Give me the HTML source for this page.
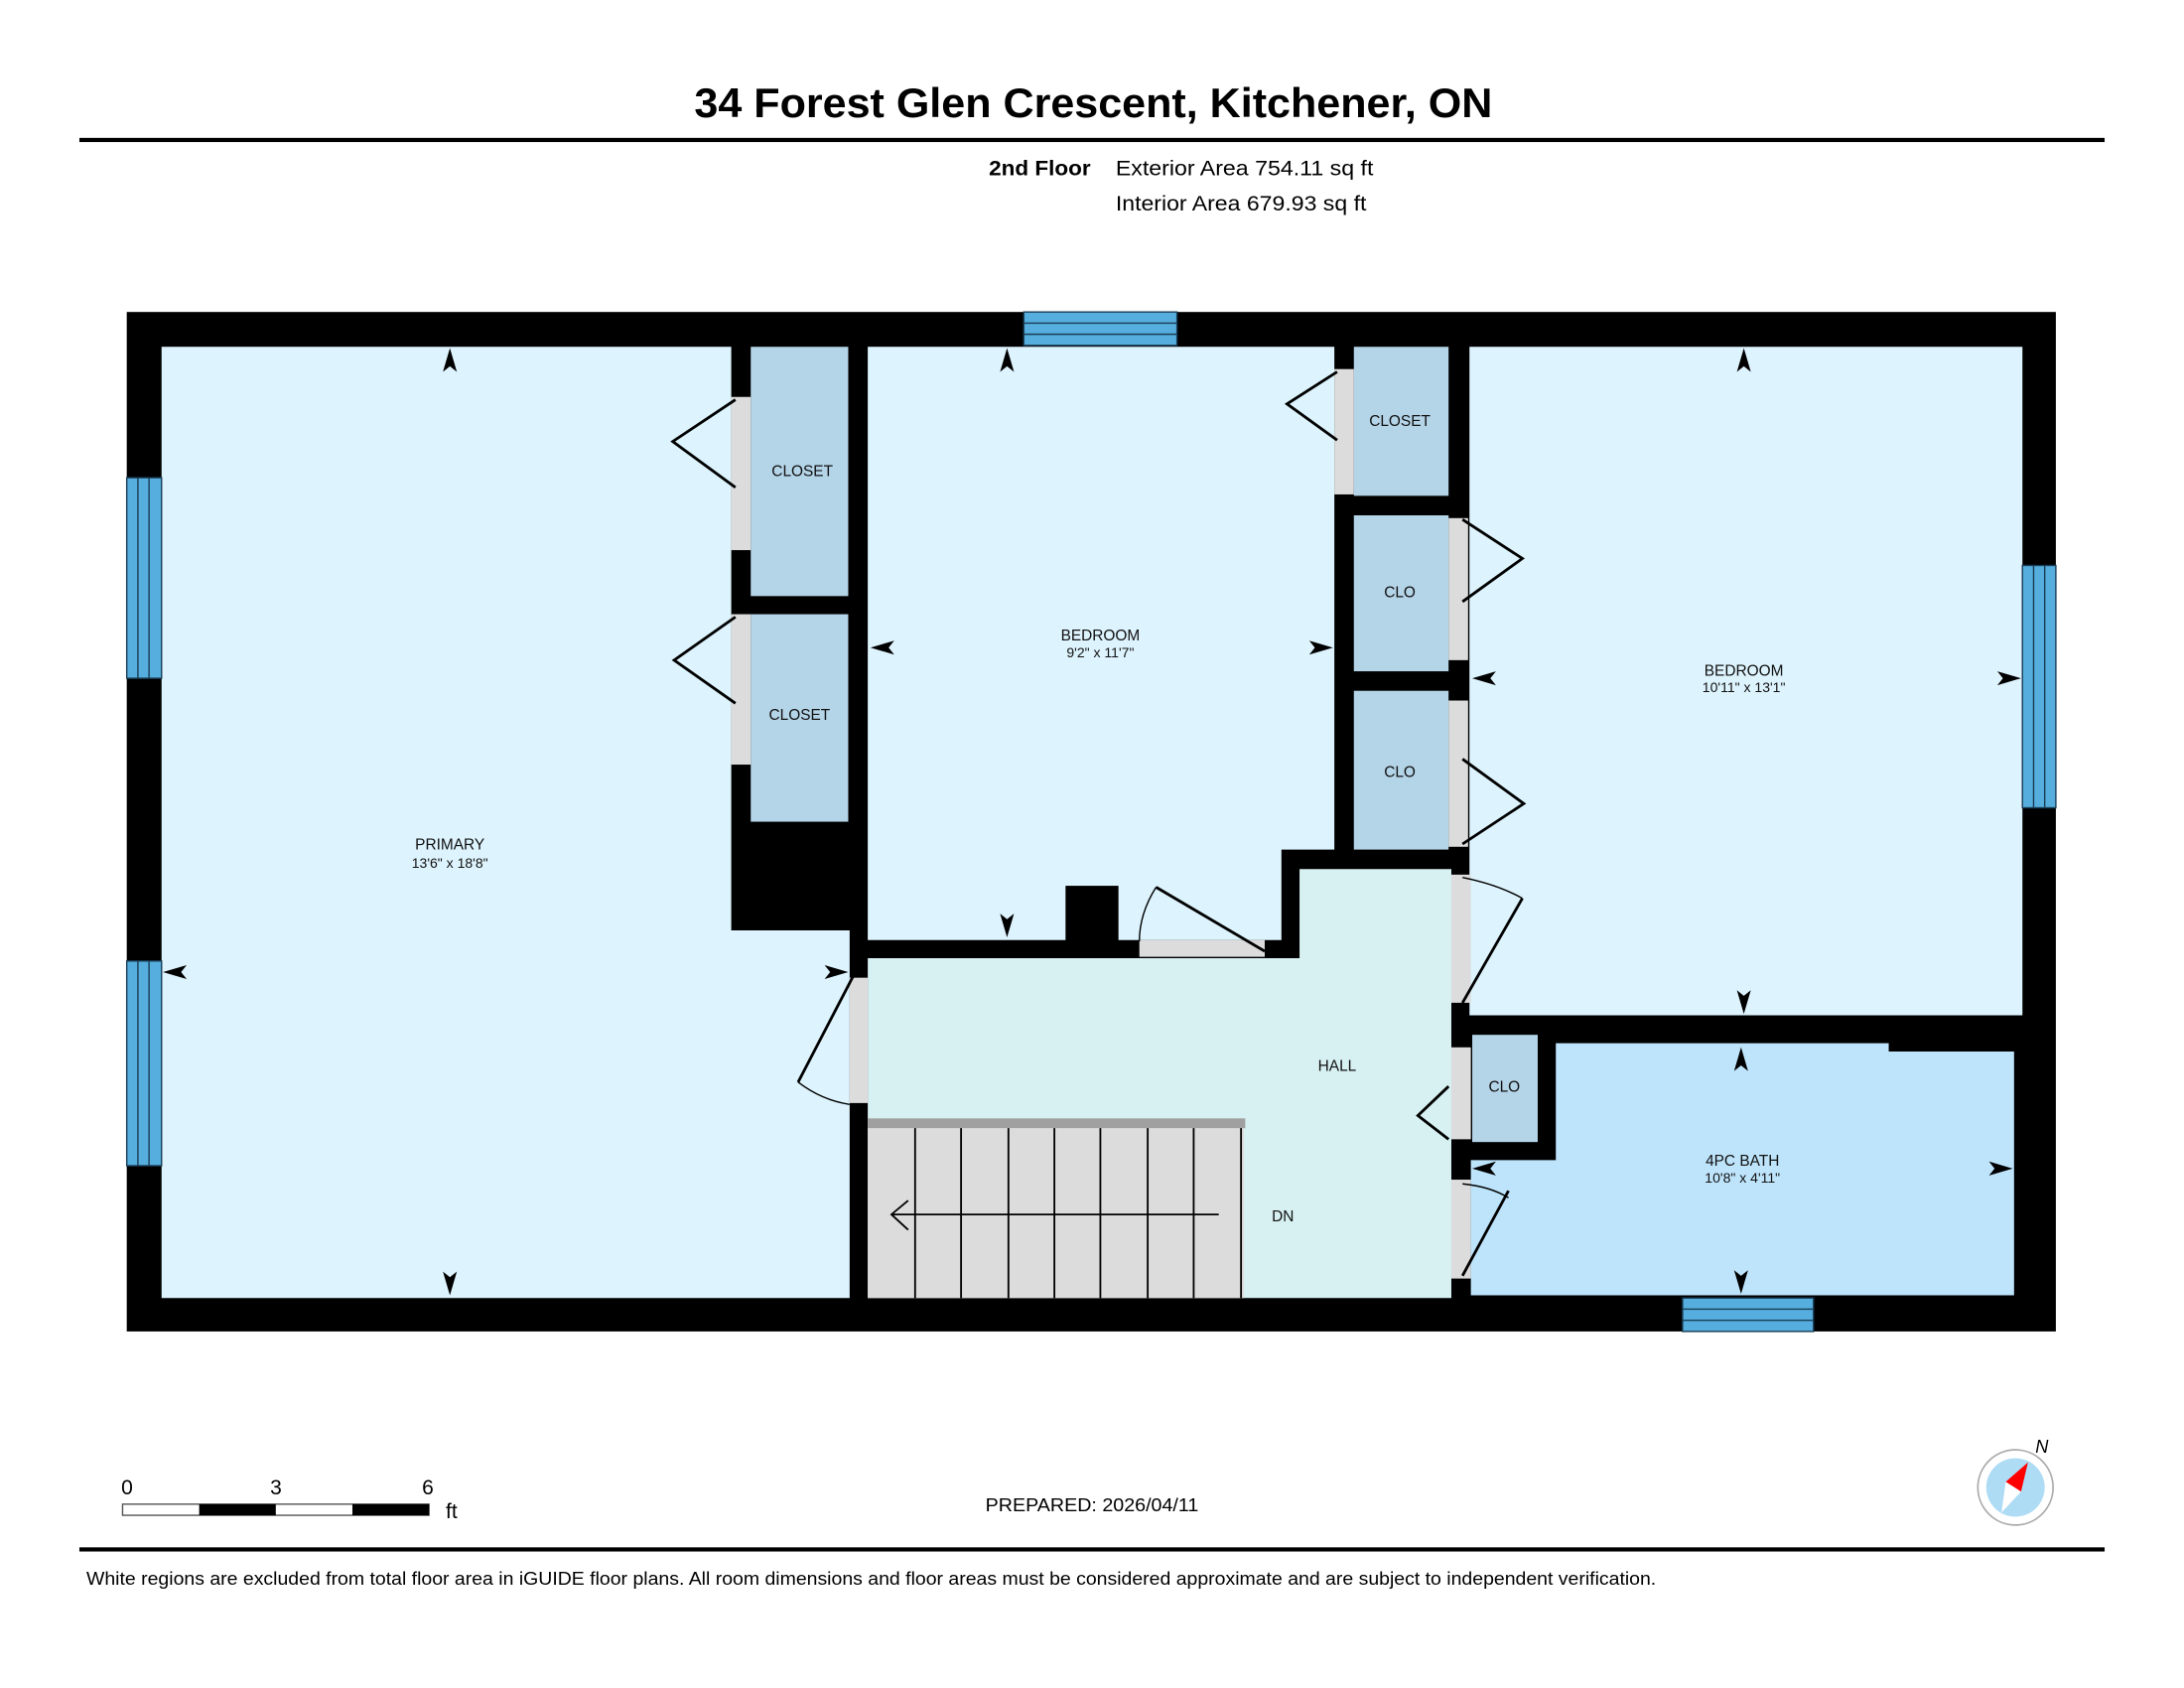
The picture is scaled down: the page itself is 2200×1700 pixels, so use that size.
<!DOCTYPE html>
<html><head><meta charset="utf-8"><style>
html,body{margin:0;padding:0;background:#fff;}
svg{display:block;}
text{font-family:"Liberation Sans",Arial,sans-serif;}
</style></head><body>
<svg width="2200" height="1700" viewBox="0 0 1568 1212" preserveAspectRatio="none" xmlns="http://www.w3.org/2000/svg">
<rect width="1568" height="1212" fill="#fff"/>
<!-- header -->
<text x="785" y="84" font-size="30" font-weight="bold" text-anchor="middle" textLength="573" lengthAdjust="spacingAndGlyphs">34 Forest Glen Crescent, Kitchener, ON</text>
<rect x="57" y="99" width="1454" height="3" fill="#000"/>
<text x="710" y="126" font-size="15" font-weight="bold" textLength="73" lengthAdjust="spacingAndGlyphs">2nd Floor</text>
<text x="801" y="126" font-size="15" textLength="185" lengthAdjust="spacingAndGlyphs">Exterior Area 754.11 sq ft</text>
<text x="801" y="151" font-size="15" textLength="180" lengthAdjust="spacingAndGlyphs">Interior Area 679.93 sq ft</text>

<!-- walls -->
<rect x="91" y="224" width="1385" height="732" fill="#000"/>
<!-- primary -->
<polygon points="116,249 525,249 525,668 610,668 610,932 116,932" fill="#ddf3fd"/>
<rect x="539" y="249" width="70" height="179" fill="#b4d4e8"/>
<rect x="539" y="441" width="70" height="149" fill="#b4d4e8"/>
<rect x="525" y="285" width="14" height="110" fill="#dcdcdc"/>
<rect x="525" y="441" width="14" height="108" fill="#dcdcdc"/>
<!-- bedroom 1 -->
<polygon points="623,249 958,249 958,610 920,610 920,675 623,675" fill="#ddf3fd"/>
<rect x="765" y="636" width="38" height="40" fill="#000"/>
<rect x="818" y="675" width="90" height="12" fill="#dcdcdc"/>
<rect x="972" y="249" width="68" height="107" fill="#b4d4e8"/>
<rect x="958" y="265" width="14" height="90" fill="#dcdcdc"/>
<rect x="972" y="370" width="68" height="112" fill="#b4d4e8"/>
<rect x="972" y="496" width="68" height="114" fill="#b4d4e8"/>
<rect x="1040" y="372" width="14" height="102" fill="#dcdcdc"/>
<rect x="1040" y="503" width="14" height="105" fill="#dcdcdc"/>
<!-- bedroom 2 -->
<rect x="1055" y="249" width="397" height="480" fill="#ddf3fd"/>
<!-- hall -->
<polygon points="623,688 933,688 933,624 1042,624 1042,932 623,932" fill="#d7f0f2"/>
<rect x="1042" y="628" width="14" height="92" fill="#dcdcdc"/>
<rect x="1042" y="752" width="14" height="66" fill="#dcdcdc"/>
<rect x="1042" y="847" width="14" height="71" fill="#dcdcdc"/>
<rect x="610" y="702" width="13" height="90" fill="#dcdcdc"/>
<!-- bath -->
<polygon points="1117,749 1356,749 1356,755 1446,755 1446,930 1056,930 1056,833 1117,833" fill="#bee4fb"/>
<rect x="1057" y="743" width="47" height="77" fill="#b4d4e8"/>
<!-- stairs -->
<rect x="623" y="810" width="270" height="122" fill="#dcdcdc"/>
<rect x="623" y="803" width="271" height="7" fill="#a0a0a0"/>
<g stroke="#000" stroke-width="1.3">
<line x1="657" y1="810" x2="657" y2="932"/><line x1="690" y1="810" x2="690" y2="932"/>
<line x1="724" y1="810" x2="724" y2="932"/><line x1="757" y1="810" x2="757" y2="932"/>
<line x1="790" y1="810" x2="790" y2="932"/><line x1="824" y1="810" x2="824" y2="932"/>
<line x1="857" y1="810" x2="857" y2="932"/><line x1="891" y1="810" x2="891" y2="932"/>
<line x1="640" y1="872" x2="875" y2="872"/>
<polyline points="652,862 640,872 652,883" fill="none"/>
</g>
<!-- windows -->
<g fill="#55aede" stroke="#1a3d55" stroke-width="1">
<rect x="735" y="224" width="110" height="24"/>
<line x1="735" y1="232" x2="845" y2="232"/><line x1="735" y1="240" x2="845" y2="240"/>
<rect x="91" y="343" width="25" height="144"/>
<line x1="99" y1="343" x2="99" y2="487"/><line x1="107" y1="343" x2="107" y2="487"/>
<rect x="91" y="690" width="25" height="147"/>
<line x1="99" y1="690" x2="99" y2="837"/><line x1="107" y1="690" x2="107" y2="837"/>
<rect x="1452" y="406" width="24" height="174"/>
<line x1="1460" y1="406" x2="1460" y2="580"/><line x1="1468" y1="406" x2="1468" y2="580"/>
<rect x="1208" y="932" width="94" height="24"/>
<line x1="1208" y1="940" x2="1302" y2="940"/><line x1="1208" y1="948" x2="1302" y2="948"/>
</g>
<!-- door swings -->
<g stroke="#000" stroke-width="2" fill="none">
<polyline points="528,287 483,317 528,350"/>
<polyline points="528,443 484,474 528,505"/>
<polyline points="960,267 924,290 960,316"/>
<polyline points="1050,373 1093,401 1050,432"/>
<polyline points="1050,545 1094,577 1050,606"/>
<polyline points="1040,780 1018,801 1040,818"/>
<line x1="830" y1="637" x2="908" y2="683"/>
<line x1="1093" y1="645" x2="1050" y2="720"/>
<line x1="1083" y1="855" x2="1050" y2="916"/>
<line x1="613" y1="700" x2="573" y2="777"/>
</g>
<g stroke="#000" stroke-width="1" fill="none">
<path d="M830,637 Q818,656 818,676"/>
<path d="M1050,630 Q1075,635 1093,645"/>
<path d="M1050,850 Q1070,852 1083,860"/>
<path d="M573,777 Q590,790 610,793"/>
</g>
<!-- dimension arrows -->
<g fill="#000">
<polygon points="323,250 318,267 323,263 328,267"/><polygon points="323,930 318,913 323,917 328,913"/>
<polygon points="117,698 134,693 130,698 134,703"/><polygon points="609,698 592,693 596,698 592,703"/>
<polygon points="723,250 718,267 723,263 728,267"/><polygon points="723,673 718,656 723,660 728,656"/>
<polygon points="625,465 642,460 638,465 642,470"/><polygon points="957,465 940,460 944,465 940,470"/>
<polygon points="1252,250 1247,267 1252,263 1257,267"/><polygon points="1252,728 1247,711 1252,715 1257,711"/>
<polygon points="1057,487 1074,482 1070,487 1074,492"/><polygon points="1451,487 1434,482 1438,487 1434,492"/>
<polygon points="1250,752 1245,769 1250,765 1255,769"/><polygon points="1250,929 1245,912 1250,916 1255,912"/>
<polygon points="1057,839 1074,834 1070,839 1074,844"/><polygon points="1445,839 1428,834 1432,839 1428,844"/>
</g>
<!-- room labels -->
<g font-size="11" text-anchor="middle" fill="#111">
<text x="323" y="610">PRIMARY</text><text x="323" y="623" font-size="10">13'6" x 18'8"</text>
<text x="576" y="342">CLOSET</text><text x="574" y="517">CLOSET</text>
<text x="790" y="460">BEDROOM</text><text x="790" y="472" font-size="10">9'2" x 11'7"</text>
<text x="1005" y="306">CLOSET</text><text x="1005" y="429">CLO</text><text x="1005" y="558">CLO</text>
<text x="1252" y="485">BEDROOM</text><text x="1252" y="497" font-size="10">10'11" x 13'1"</text>
<text x="960" y="769">HALL</text><text x="1080" y="784">CLO</text><text x="921" y="877">DN</text>
<text x="1251" y="837">4PC BATH</text><text x="1251" y="849" font-size="10">10'8" x 4'11"</text>
</g>
<!-- scale bar -->
<g font-size="15">
<text x="87" y="1073">0</text><text x="194" y="1073">3</text><text x="303" y="1073">6</text>
<text x="320" y="1090">ft</text>
</g>
<rect x="88" y="1080" width="220" height="8" fill="#fff" stroke="#555" stroke-width="1"/>
<rect x="143" y="1080" width="55" height="8" fill="#000"/>
<rect x="253" y="1080" width="55" height="8" fill="#000"/>
<text x="784" y="1085" font-size="13" text-anchor="middle" textLength="153" lengthAdjust="spacingAndGlyphs">PREPARED: 2026/04/11</text>
<!-- compass -->
<circle cx="1447" cy="1068" r="27" fill="#fff" stroke="#aaa" stroke-width="1.2"/>
<circle cx="1447" cy="1068" r="21" fill="#aedcf5"/>
<polygon points="1456,1050 1440,1064 1451,1071" fill="#f00"/>
<polygon points="1440,1064 1451,1071 1437,1086" fill="#fff"/>
<text x="1466" y="1043" font-size="13" font-style="italic" text-anchor="middle">N</text>
<!-- footer -->
<rect x="57" y="1111" width="1454" height="3" fill="#000"/>
<text x="62" y="1138" font-size="13" textLength="1127" lengthAdjust="spacingAndGlyphs">White regions are excluded from total floor area in iGUIDE floor plans. All room dimensions and floor areas must be considered approximate and are subject to independent verification.</text>
</svg>
</body></html>
